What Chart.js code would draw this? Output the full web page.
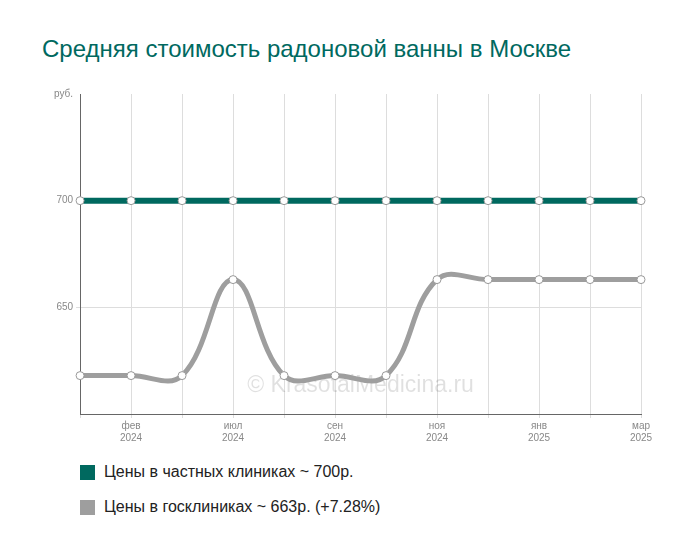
<!DOCTYPE html>
<html>
<head>
<meta charset="utf-8">
<script src="https://cdn.jsdelivr.net/npm/chart.js@4"></script>
<style>
  body { margin: 0; background: #fff; font-family: "Liberation Sans", Arial, sans-serif; }
  #wrap { position: relative; width: 700px; height: 557px; }
  h1 { position: absolute; left: 42px; top: 35px; margin: 0; font-size: 24px; font-weight: normal; color: #00695f; }
  #box { position: absolute; left: 0; top: 80px; width: 700px; height: 366px; }
  .leg { position: absolute; left: 80px; font-size: 16px; color: #222; display: flex; align-items: center; }
  .leg span { display: inline-block; width: 15px; height: 15px; margin-right: 9px; }
</style>
</head>
<body>
<div id="wrap">
  <h1>Средняя стоимость радоновой ванны в Москве</h1>
  <div id="box"><canvas id="c"></canvas></div>
  <div class="leg" style="top:463px"><span style="background:#00695f"></span>Цены в частных клиниках ~ 700р.</div>
  <div class="leg" style="top:498px"><span style="background:#9e9e9e"></span>Цены в госклиниках ~ 663р. (+7.28%)</div>
</div>
<script>
"use strict";

const labels = ["", "фев|2024", "", "июл|2024", "", "сен|2024", "", "ноя|2024", "", "янв|2025", "", "мар|2025"];
const privatePrices = [700, 700, 700, 700, 700, 700, 700, 700, 700, 700, 700, 700];
const publicPrices = [618, 618, 618, 663, 618, 618, 618, 663, 663, 663, 663, 663];

const watermark = {
  id: "watermark",
  beforeDatasetsDraw(chart) {
    const { ctx, chartArea } = chart;
    ctx.save();
    ctx.font = "23px 'Liberation Sans', Arial";
    ctx.fillStyle = "rgba(0,0,0,0.12)";
    ctx.textAlign = "center";
    ctx.fillText("© KrasotaiMedicina.ru", (chartArea.left + chartArea.right) / 2, 312);
    ctx.restore();
  }
};

new Chart(document.getElementById("c"), {
  type: "line",
  data: {
    labels: labels.map(l => l ? l.split("|") : ""),
    datasets: [
      {
        data: privatePrices,
        borderColor: "#00695f",
        borderWidth: 6,
        pointRadius: 4,
        pointBackgroundColor: "#fff",
        pointBorderColor: "#999",
        pointBorderWidth: 1,
        tension: 0
      },
      {
        data: publicPrices,
        borderColor: "#9e9e9e",
        borderWidth: 5,
        pointRadius: 4,
        pointBackgroundColor: "#fff",
        pointBorderColor: "#999",
        pointBorderWidth: 1,
        tension: 0.4
      }
    ]
  },
  options: {
    responsive: true,
    maintainAspectRatio: false,
    animation: false,
    layout: { padding: { left: 51, right: 59, top: 14, bottom: 0 } },
    plugins: { legend: { display: false }, tooltip: { enabled: false } },
    scales: {
      x: {
        offset: false,
        grid: { color: "#ddd", drawTicks: true, tickLength: 4 },
        border: { color: "#666" },
        ticks: { color: "#888", font: { size: 10 }, autoSkip: false, maxRotation: 0, padding: 2 }
      },
      y: {
        min: 600,
        max: 750,
        grid: { color: ctx => ctx.tick.value === 650 ? "#ddd" : "transparent", drawTicks: true, tickLength: 4 },
        border: { color: "#666" },
        ticks: {
          stepSize: 50,
          color: "#888",
          font: { size: 10 },
          callback: v => v === 750 ? "руб." : (v === 600 ? "" : v)
        }
      }
    }
  },
  plugins: [watermark]
});
</script>
</body>
</html>
